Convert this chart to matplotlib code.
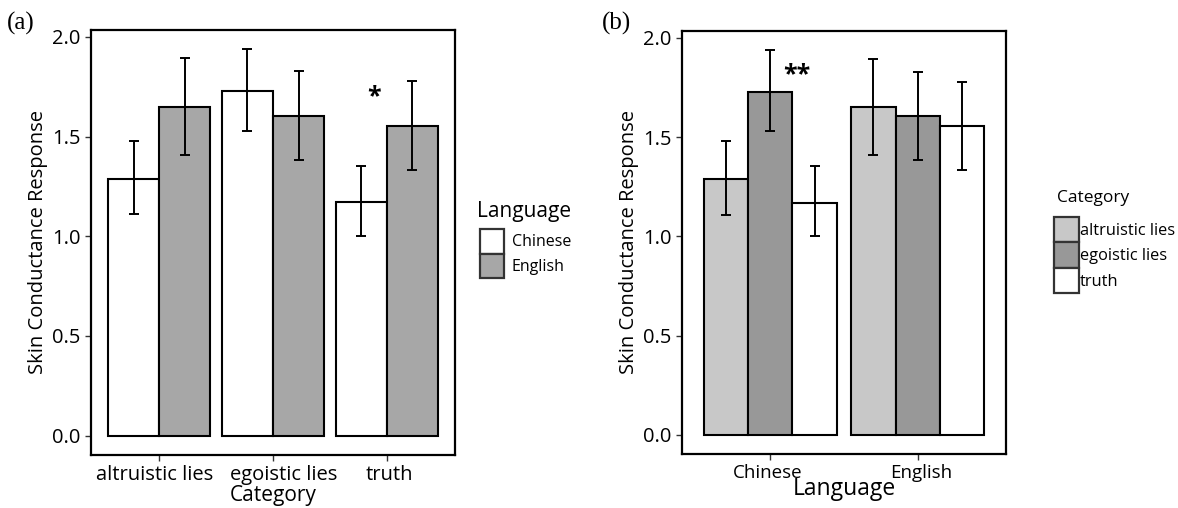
import matplotlib
matplotlib.use("Agg")
import matplotlib.pyplot as plt
import matplotlib.transforms as mtransforms
import numpy as np
from matplotlib.patches import Patch

# valores
categories = ["altruistic lies", "egoistic lies", "truth"]
languages = ["Chinese", "English"]
# media y extremos de la barra de error, por idioma, en el orden de categories
chinese_mean = [1.29, 1.73, 1.17]
chinese_lo = [1.11, 1.53, 1.00]
chinese_hi = [1.48, 1.94, 1.355]
english_mean = [1.65, 1.605, 1.555]
english_lo = [1.41, 1.385, 1.335]
english_hi = [1.895, 1.83, 1.78]

lang_colors = {"Chinese": "#ffffff", "English": "#a7a7a7"}
cat_colors = {"altruistic lies": "#c8c8c8", "egoistic lies": "#989898", "truth": "#ffffff"}

FONT = "Open Sans"
plt.rcParams["font.family"] = [FONT, "DejaVu Sans"]

W, H = 1178, 508
fig = plt.figure(figsize=(W / 100, H / 100), dpi=100)


def box(x0, y0, x1, y1):
    return [x0 / W, 1 - y1 / H, (x1 - x0) / W, (y1 - y0) / H]


def style_axes(ax):
    for s in ax.spines.values():
        s.set_linewidth(1.6)
        s.set_color("black")
    ax.set_ylim(-0.097, 2.035)
    ax.set_yticks([0.0, 0.5, 1.0, 1.5, 2.0])
    ax.set_yticklabels(["0.0", "0.5", "1.0", "1.5", "2.0"])
    ax.tick_params(axis="both", direction="out", length=4, width=1.0,
                   colors="#333333", labelcolor="black", labelsize=14.5)
    ax.set_ylabel("Skin Conductance Response", fontsize=14.5, labelpad=3)


def nudge_xticklabels(ax, shifts_px):
    # en el original las etiquetas no están centradas del todo bajo cada tick
    for lab, dx in zip(ax.get_xticklabels(), shifts_px):
        off = mtransforms.ScaledTranslation(dx / 100, 0, fig.dpi_scale_trans)
        lab.set_transform(lab.get_transform() + off)


def legend_at(ax, handles, x, y, fs, pad):
    return ax.legend(handles=handles, loc="upper left",
                     bbox_to_anchor=(x / W, 1 - y / H), bbox_transform=fig.transFigure,
                     frameon=False, fontsize=fs,
                     handlelength=1.5, handleheight=2.0, handletextpad=pad,
                     labelspacing=0, borderaxespad=0, borderpad=0)


data = {
    "Chinese": (chinese_mean, chinese_lo, chinese_hi),
    "English": (english_mean, english_lo, english_hi),
}

# (a) agrupado por categoría
ax1 = fig.add_axes(box(91, 30, 455, 455))
x = np.arange(1, len(categories) + 1)
w = 0.45
for i, lang in enumerate(languages):
    mean, lo, hi = data[lang]
    pos = x + (i - 0.5) * w
    ax1.bar(pos, mean, width=w, color=lang_colors[lang], edgecolor="black", linewidth=1.5)
    mean = np.array(mean)
    ax1.errorbar(pos, mean, yerr=[mean - np.array(lo), np.array(hi) - mean], fmt="none",
                 ecolor="black", elinewidth=1.4, capsize=3.5, capthick=1.4)
ax1.set_xlim(0.4, 3.6)
ax1.set_xticks(x)
ax1.set_xticklabels(categories)
style_axes(ax1)
nudge_xticklabels(ax1, [-5, 11, 3])
ax1.set_xlabel("Category", fontsize=15, labelpad=0)
ax1.text(2.89, 1.70, "*", ha="center", va="center", fontsize=18, fontweight="bold")
legend_at(ax1, [Patch(facecolor=lang_colors[l], edgecolor="#333333", linewidth=1.6, label=l)
                for l in languages], 480, 229, 11.5, 0.5)
fig.text(477 / W, 1 - 212 / H, "Language", fontsize=15, va="center")
fig.text(7 / W, 1 - 23 / H, "(a)", fontsize=18, family="Liberation Serif", va="center")

# (b) agrupado por idioma
ax2 = fig.add_axes(box(682, 31, 1006, 454))
xl = np.arange(1, len(languages) + 1)
wb = 0.3
for j, cat in enumerate(categories):
    means = np.array([data[l][0][j] for l in languages])
    los = np.array([data[l][1][j] for l in languages])
    his = np.array([data[l][2][j] for l in languages])
    pos = xl + (j - 1) * wb
    ax2.bar(pos, means, width=wb, color=cat_colors[cat], edgecolor="black", linewidth=1.5)
    ax2.errorbar(pos, means, yerr=[means - los, his - means], fmt="none",
                 ecolor="black", elinewidth=1.4, capsize=3.5, capthick=1.4)
ax2.set_xlim(0.4, 2.6)
ax2.set_xticks(xl)
ax2.set_xticklabels(languages)
style_axes(ax2)
ax2.tick_params(axis="x", labelsize=13.5)
nudge_xticklabels(ax2, [-2.5, 4])
ax2.set_xlabel("Language", fontsize=16.5, labelpad=-4)
ax2.text(1.18, 1.815, "**", ha="center", va="center", fontsize=18, fontweight="bold")
legend_at(ax2, [Patch(facecolor=cat_colors[c], edgecolor="#333333", linewidth=1.6, label=c)
                for c in categories], 1054, 217, 11.8, 0.08)
fig.text(1057 / W, 1 - 198 / H, "Category", fontsize=12.5, va="center")
fig.text(602 / W, 1 - 23 / H, "(b)", fontsize=18, family="Liberation Serif", va="center")

fig.savefig("out.png", dpi=100, facecolor="white")
